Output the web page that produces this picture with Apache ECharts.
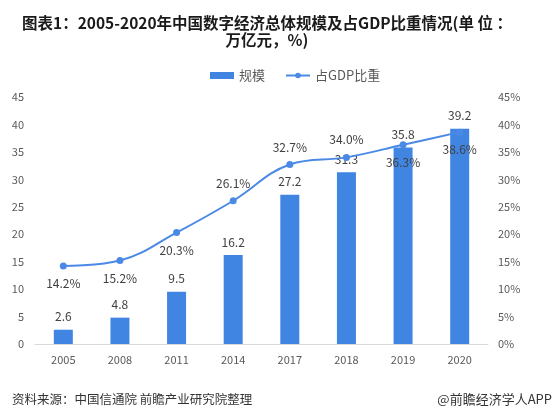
<!DOCTYPE html>
<html><head><meta charset="utf-8">
<script src="https://cdn.jsdelivr.net/npm/echarts@6/dist/echarts.min.js"></script>
<style>html,body{margin:0;padding:0;background:#fff}#c{width:553px;height:417px}</style>
</head><body><div id="c"></div>
<script>
const years = ['2005','2008','2011','2014','2017','2018','2019','2020'];
const scale = [2.6, 4.8, 9.5, 16.2, 27.2, 31.3, 35.8, 39.2];
const gdpShare = [14.2, 15.2, 20.3, 26.1, 32.7, 34.0, 36.3, 38.6];
const shareLabelPos = ['bottom','bottom','bottom','top','top','top','bottom','bottom'];
const leftTicks = [0,5,10,15,20,25,30,35,40,45];

const chart = echarts.init(document.getElementById('c'));
const font = '"Noto Sans CJK SC", "Noto Sans", sans-serif';
chart.setOption({
  animation: false,
  textStyle: {fontFamily: font},
  title: [{
    text: '图表1：2005-2020年中国数字经济总体规模及占GDP比重情况(单 位 ：\n万亿元，%)',
    left: 262, top: 10, textAlign: 'center',
    textStyle: {fontSize: 15.5, fontWeight: 'bold', color: '#1a1a1a', lineHeight: 17, fontFamily: font, align: 'center'}
  },{
    text: '资料来源：中国信通院 前瞻产业研究院整理',
    left: 7, top: 388,
    textStyle: {fontSize: 12.5, fontWeight: 'normal', color: '#333', fontFamily: font}
  },{
    text: '@前瞻经济学人APP',
    right: -4, top: 388,
    textStyle: {fontSize: 13, fontWeight: 'normal', color: '#333', fontFamily: font}
  }],
  legend: {
    top: 64, left: 205,
    itemGap: 20, itemWidth: 24, itemHeight: 7,
    textStyle: {fontSize: 13, color: '#595959'},
    data: [{name: '规模', icon: 'rect'}, {name: '占GDP比重'}]
  },
  grid: {left: 35, right: 65, top: 97, bottom: 73},
  xAxis: {
    type: 'category', data: years,
    axisLine: {lineStyle: {color: '#d9d9d9'}},
    axisTick: {show: false},
    axisLabel: {color: '#595959', fontSize: 11, margin: 10}
  },
  yAxis: [{
    type: 'value', min: leftTicks[0], max: leftTicks[leftTicks.length-1], interval: 5,
    axisLine: {show: false}, axisTick: {show: false}, splitLine: {show: false},
    axisLabel: {color: '#595959', fontSize: 11, margin: 11}
  },{
    type: 'value', min: 0, max: 45, interval: 5,
    axisLine: {show: false}, axisTick: {show: false}, splitLine: {show: false},
    axisLabel: {color: '#595959', fontSize: 11, margin: 10, formatter: '{value}%'}
  }],
  series: [{
    name: '规模', type: 'bar', data: scale, barWidth: 19,
    itemStyle: {color: '#4185e3'},
    label: {show: true, position: 'top', distance: 7, color: '#404040', fontSize: 12}
  },{
    name: '占GDP比重', type: 'line', yAxisIndex: 1, smooth: 0.4,
    symbol: 'circle', symbolSize: 7,
    lineStyle: {color: '#4a8ae6', width: 2},
    itemStyle: {color: '#4a8ae6'},
    data: gdpShare.map((v,i)=>({value: v, label: {position: shareLabelPos[i]}})),
    label: {show: true, distance: 8, color: '#404040', fontSize: 12,
      formatter: p => p.value.toFixed(1) + '%'}
  }]
});
</script></body></html>
